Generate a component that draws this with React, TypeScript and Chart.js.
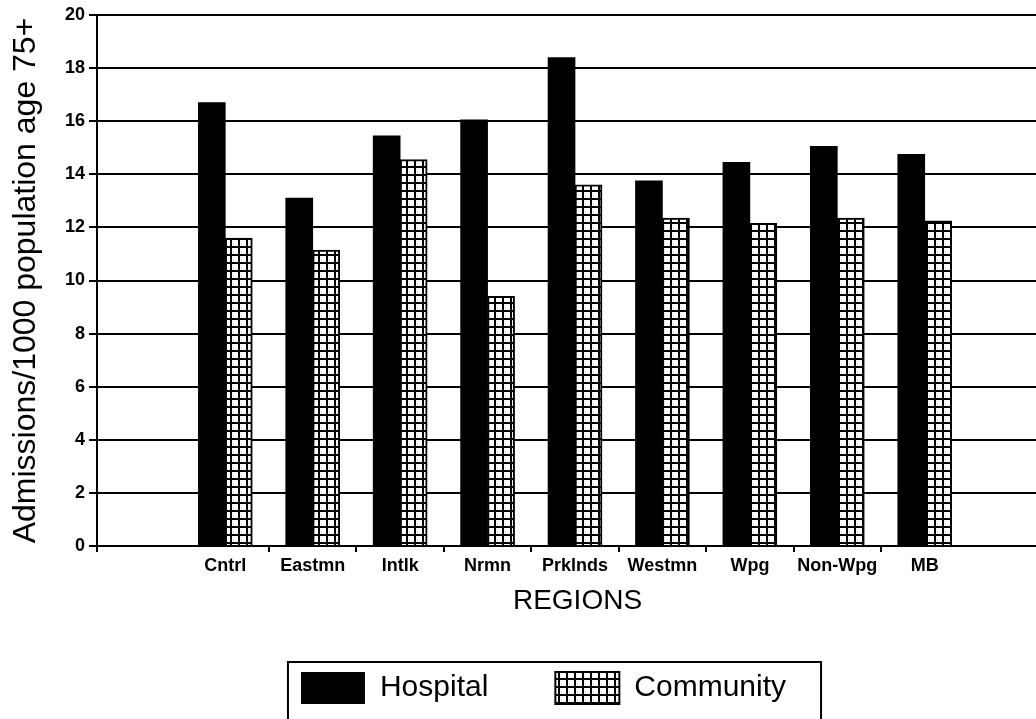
import React, { useEffect, useRef } from 'react';
import { Chart, registerables } from 'chart.js';

Chart.register(...registerables);

const categories = ['Cntrl', 'Eastmn', 'Intlk', 'Nrmn', 'Prklnds', 'Westmn', 'Wpg', 'Non-Wpg', 'MB'];
const hospital = [16.7, 13.1, 15.45, 16.05, 18.4, 13.75, 14.45, 15.05, 14.75];
const community = [11.6, 11.15, 14.55, 9.4, 13.6, 12.35, 12.15, 12.35, 12.25];
const seriesNames = ['Hospital', 'Community'];
const yTitle = 'Admissions/1000 population age 75+';
const xTitle = 'REGIONS';

const X_MIN = -1.4675;
const X_MAX = 9.524;
const W = 1058;
const H = 734;

const FONT = '"Liberation Sans", Arial, Helvetica, sans-serif';

const legendBox = {
  id: 'legendBox',
  afterDraw(chart: any) {
    const lg = chart.legend;
    const hb = lg && lg.legendHitBoxes;
    if (!hb || !hb.length) return;
    const first = hb[0];
    const last = hb[hb.length - 1];
    const ctx = chart.ctx;
    const left = first.left - 13;
    const right = last.left + last.width + 35;
    const top = first.top - 10;
    ctx.save();
    ctx.strokeStyle = '#000';
    ctx.lineWidth = 2;
    ctx.strokeRect(left, top, right - left, chart.height + 20 - top);
    ctx.restore();
  },
};

export default function App() {
  const ref = useRef<HTMLCanvasElement>(null);

  useEffect(() => {
    const canvas = ref.current!;
    const pc = document.createElement('canvas');
    pc.width = 8;
    pc.height = 8;
    const pctx = pc.getContext('2d')!;
    pctx.fillStyle = '#fff';
    pctx.fillRect(0, 0, 8, 8);
    pctx.fillStyle = '#000';
    pctx.fillRect(6, 0, 2, 8);
    pctx.fillRect(0, 6, 8, 2);
    const hatch = canvas.getContext('2d')!.createPattern(pc, 'repeat')!;

    Chart.defaults.font.family = FONT;
    Chart.defaults.color = '#000';

    const tickValues: number[] = [X_MIN];
    for (let i = 0; i < categories.length; i++) {
      tickValues.push(i);
      if (i < categories.length - 1) tickValues.push(i + 0.5);
    }

    const chart = new Chart(canvas, {
      type: 'bar',
      data: {
        datasets: [
          {
            label: seriesNames[0],
            data: hospital.map((v, i) => ({ x: i, y: v })),
            backgroundColor: '#000',
            borderColor: '#000',
            borderWidth: 0,
            barThickness: 27,
          },
          {
            label: seriesNames[1],
            data: community.map((v, i) => ({ x: i, y: v })),
            backgroundColor: hatch,
            borderColor: '#000',
            borderWidth: 2,
            barThickness: 27,
          },
        ],
      },
      options: {
        responsive: false,
        animation: false,
        devicePixelRatio: 1,
        layout: { padding: { left: 29, right: 0, top: 15, bottom: 20 } },
        plugins: {
          legend: {
            position: 'bottom',
            labels: {
              boxWidth: 64,
              boxHeight: 32,
              padding: 67,
              color: '#000',
              font: { size: 30, family: FONT },
            },
          },
          tooltip: { enabled: false },
        },
        scales: {
          x: {
            type: 'linear',
            min: X_MIN,
            max: X_MAX,
            offset: false,
            afterBuildTicks: (s: any) => {
              s.ticks = tickValues.map((v) => ({ value: v }));
            },
            afterFit: (s: any) => {
              s.height = 59;
            },
            ticks: {
              autoSkip: false,
              maxRotation: 0,
              minRotation: 0,
              padding: 3,
              color: '#000',
              font: { size: 18, weight: 'bold', family: FONT },
              callback: (v: any) =>
                Number.isInteger(v) && v >= 0 && v < categories.length ? categories[v] : '',
            },
            grid: {
              offset: false,
              drawOnChartArea: false,
              drawTicks: true,
              tickLength: 6,
              lineWidth: 2,
              color: '#000',
              tickColor: (ctx: any) =>
                ctx.tick && Number.isInteger(ctx.tick.value) ? 'rgba(0,0,0,0)' : '#000',
            },
            border: { display: true, color: '#000', width: 2 },
            title: {
              display: true,
              text: xTitle,
              color: '#000',
              font: { size: 28, family: FONT },
              padding: { top: 0, bottom: -13 },
            },
          },
          y: {
            min: 0,
            max: 20,
            afterFit: (s: any) => {
              s.width = 68;
            },
            ticks: {
              stepSize: 2,
              padding: 4,
              color: '#000',
              font: { size: 18, weight: 'bold', family: FONT },
            },
            grid: { color: '#000', lineWidth: 2, tickLength: 8 },
            border: { color: '#000', width: 2 },
            title: {
              display: true,
              text: yTitle,
              color: '#000',
              font: { size: 32, family: FONT },
              padding: { top: -22, bottom: 0 },
            },
          },
        },
      } as any,
      plugins: [legendBox],
    });

    return () => chart.destroy();
  }, []);

  return (
    <div
      style={{
        position: 'fixed',
        left: 0,
        top: 0,
        width: 1036,
        height: 719,
        overflow: 'hidden',
        background: '#fff',
      }}
    >
      <canvas
        ref={ref}
        width={W}
        height={H}
        style={{ position: 'absolute', left: 0, top: 0, width: W, height: H }}
      />
    </div>
  );
}
